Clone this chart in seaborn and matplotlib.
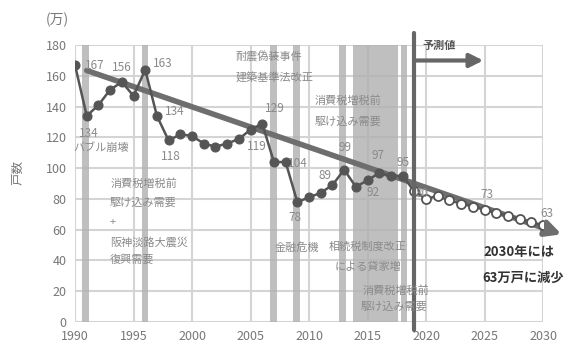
import matplotlib
matplotlib.use('Agg')
import matplotlib.pyplot as plt
import seaborn as sns
import pandas as pd

sns.set_style('white')
plt.rcParams['font.family'] = ['Noto Sans CJK JP', 'DejaVu Sans']
plt.rcParams['axes.unicode_minus'] = False

# 実績 (万戸)
years_actual = list(range(1990, 2019))
starts_actual = [167, 134, 141, 151, 156, 147, 164, 134, 118, 122, 121, 116, 114, 116,
                 119, 125, 129, 104, 104, 78, 81, 84, 89, 99, 88, 92, 97, 95, 95]
# 予測値
years_fcst = list(range(2019, 2031))
starts_fcst = [85, 80, 82, 79, 77, 75, 73, 71, 69, 67, 65, 63]
# トレンド線 (始点, 終点)
trend_years = [1991, 2031.6]
trend_values = [163.5, 57]
# 網掛け期間
band_spans = [(1990.6, 1991.2), (1995.7, 1996.2), (2006.7, 2007.3), (2008.6, 2009.2),
              (2012.6, 2013.2), (2013.8, 2017.6), (2017.9, 2018.4)]
forecast_start = 2019
x_ticks = [1990, 1995, 2000, 2005, 2010, 2015, 2020, 2025, 2030]
y_ticks = list(range(0, 181, 20))

# 数値ラベル: (x, y, text)
value_labels = [
    (1991.7, 167, '167'), (1994.0, 165.6, '156'), (1997.5, 168.2, '163'),
    (1991.2, 122.7, '134'), (1998.5, 137, '134'), (1998.2, 107.8, '118'),
    (2007.1, 139, '129'), (2005.5, 114.3, '119'), (2009.0, 103.2, '104'),
    (2008.8, 68.2, '78'), (2011.4, 95.5, '89'), (2013.1, 113.6, '99'),
    (2015.5, 84.4, '92'), (2015.9, 108.4, '97'), (2018.0, 103.9, '95'),
    (2019.7, 83.8, '80'), (2025.2, 83.1, '73'), (2030.3, 70.8, '63'),
]
# 注記: (x, y, text, ha)
notes = [
    (1992.2, 113.6, 'バブル崩壊', 'center'),
    (1993.0, 90.3, '消費税増税前', 'left'),
    (1993.0, 77.3, '駆け込み需要', 'left'),
    (1993.0, 64.9, '+', 'left'),
    (1993.0, 51.9, '阪神淡路大震災', 'left'),
    (1993.0, 40.3, '復興需要', 'left'),
    (2003.7, 172.1, '耐震偽装事件', 'left'),
    (2003.7, 159.1, '建築基準法改正', 'left'),
    (2010.5, 144.2, '消費税増税前', 'left'),
    (2010.5, 130.5, '駆け込み需要', 'left'),
    (2007.1, 48.7, '金融危機', 'left'),
    (2015.0, 48.7, '相続税制度改正', 'center'),
    (2015.0, 35.7, 'による貸家増', 'center'),
    (2017.4, 20.8, '消費税増税前', 'center'),
    (2017.3, 9.7, '駆け込み需要', 'center'),
]

df_act = pd.DataFrame({'year': years_actual, 'starts': starts_actual})
df_fc = pd.DataFrame({'year': [years_actual[-1]] + years_fcst,
                      'starts': [starts_actual[-1]] + starts_fcst})

fig = plt.figure(figsize=(5.74, 3.47), dpi=100)
ax = fig.add_axes([0.1307, 0.072, 0.946 - 0.1307, 0.870 - 0.072])

for a, b in band_spans:
    ax.axvspan(a, b, color='#b0b0b0', alpha=0.8, lw=0, zorder=1)

ax.annotate('', xy=(trend_years[1], trend_values[1]), xytext=(trend_years[0], trend_values[0]),
            arrowprops=dict(arrowstyle='-|>,head_length=0.9,head_width=0.45', color='#6e6e6e',
                            lw=4, shrinkA=0, shrinkB=0),
            zorder=3, annotation_clip=False)

sns.lineplot(data=df_act, x='year', y='starts', ax=ax, color='#555555', lw=1.8,
             marker='o', markersize=6.5, markeredgecolor='#555555', zorder=4)
sns.lineplot(data=df_fc, x='year', y='starts', ax=ax, color='#555555', lw=1.8,
             marker='o', markersize=6.5, markerfacecolor='white', markeredgecolor='#555555',
             markeredgewidth=1.3, markevery=list(range(1, len(df_fc))), zorder=4)

ax.plot([forecast_start, forecast_start], [-5, 188], color='#666666', lw=3, clip_on=False, zorder=5)
ax.annotate('', xy=(2024.9, 170), xytext=(forecast_start, 170),
            arrowprops=dict(arrowstyle='-|>,head_length=0.8,head_width=0.4', color='#666666',
                            lw=3, shrinkA=0, shrinkB=0), zorder=5)
ax.text(2019.7, 180, '予測値', fontsize=8, color='#555555', fontweight='bold', ha='left', va='center')

for x, y, t in value_labels:
    ax.text(x, y, t, fontsize=8.5, color='#8a8a8a', ha='center', va='center', zorder=6)
for x, y, t, ha in notes:
    ax.text(x, y, t, fontsize=8, color='#8a8a8a', ha=ha, va='center', zorder=6)

ax.text(2024.9, 45.5, '2030年には', fontsize=9.5, color='#333333', fontweight='bold',
        ha='left', va='center', clip_on=False)
ax.text(2024.8, 28.6, '63万戸に減少', fontsize=9.5, color='#333333', fontweight='bold',
        ha='left', va='center', clip_on=False)

ax.set_xlim(1990, 2030)
ax.set_ylim(0, 180)
ax.set_xticks(x_ticks)
ax.set_yticks(y_ticks)
ax.set_xticks(range(1990, 2031), minor=True)
ax.grid(True, color='#d4d4d4', lw=1.5, zorder=0)
ax.set_axisbelow(True)
for s in ax.spines.values():
    s.set_visible(False)
ax.tick_params(axis='both', which='major', length=0, labelsize=9, labelcolor='#777777', pad=6)
ax.tick_params(axis='x', which='minor', length=3, direction='in', color='#cccccc')
ax.set_xlabel('')
ax.set_ylabel('')

fig.text(0.099, 0.942, '(万)', fontsize=10, color='#777777', ha='center', va='center')
fig.text(0.031, 0.504, '戸数', fontsize=9, color='#777777', ha='center', va='center', rotation=90)

fig.savefig('out.png', dpi=100)
